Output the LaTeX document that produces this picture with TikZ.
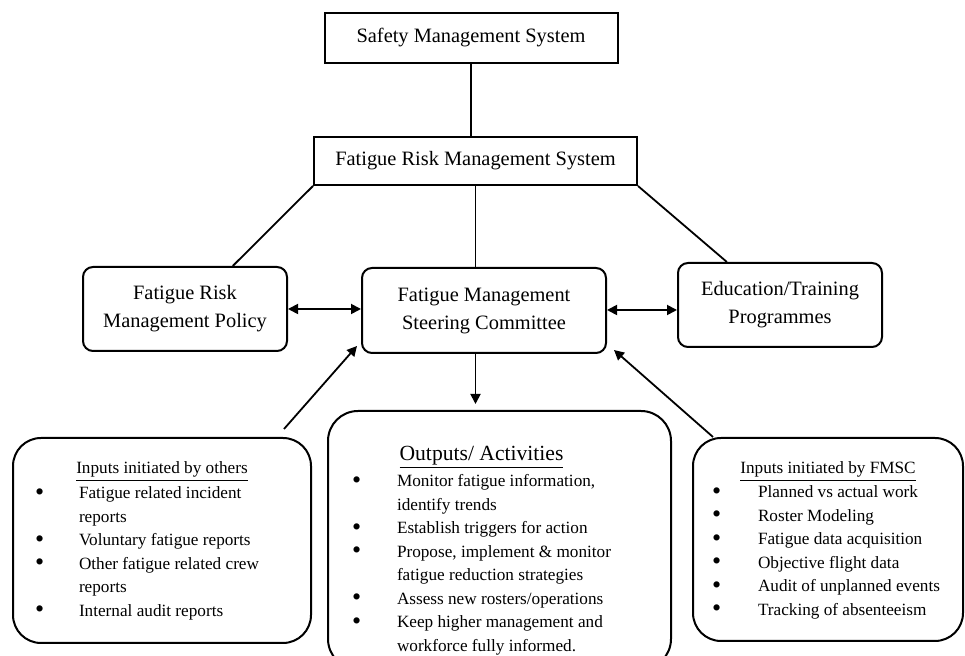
\documentclass[tikz,border=0pt]{standalone}
\usepackage{fontspec}
\setmainfont{Liberation Serif}
\usepackage{tikz}
\usetikzlibrary{arrows.meta,positioning,calc}

\newlength\bulind
\newlength\txtind
\newcommand{\boxhead}[2][0pt]{\par\noindent\makebox[\linewidth]{\hspace*{#1}\underline{#2}}\par}
\newcommand{\bigdot}{{\fontsize{13}{13}\selectfont\raisebox{-0.7pt}{\textbullet}}}
\newcommand{\bitem}[1]{\par\hangindent=\txtind\hangafter=1\noindent\makebox[\txtind][l]{\hspace*{\bulind}\bigdot}{\let\\\newline #1}}

\begin{document}
\begin{tikzpicture}[x=0.5pt,y=-0.5pt,
    sysbox/.style={draw,line width=1pt,inner sep=0pt,minimum height=#1,font=\fontsize{10.2}{14}\selectfont},
    midbox/.style={draw,line width=1pt,rounded corners=5pt,inner sep=0pt,minimum width=#1,minimum height=42pt,align=center,font=\fontsize{10.2}{14}\selectfont},
    listbox/.style={draw,line width=1pt,rounded corners=14pt,inner sep=0pt,anchor=north west,font=\fontsize{8.6}{11.75}\selectfont},
    link/.style={line width=0.9pt},
    arr/.style={line width=0.9pt,-{Triangle[length=5pt,width=5pt]}},
    darr/.style={line width=0.9pt,{Triangle[length=5pt,width=5pt]}-{Triangle[length=5pt,width=5pt]}}]
  \useasboundingbox[fill=white] (0,0) rectangle (965,656);

  % top of the hierarchy
  \node[sysbox=25pt,minimum width=146.5pt] (sms) at (471,38) {Safety Management System};
  \node[sysbox=24pt,minimum width=161.5pt] (frms) at (475.5,161) {Fatigue Risk Management System};

  % middle row
  \node[midbox=102pt] (policy) at (185,309) {Fatigue Risk\\Management Policy};
  \node[midbox=122pt,minimum height=42.5pt] (steer) at (484,310.5) {Fatigue Management\\Steering Committee};
  \node[midbox=102pt] (edu) at (780,305) {Education/Training\\Programmes};

  % lists
  \node[listbox] (others) at (12,437) {\parbox[t][102.5pt][t]{149pt}{\raggedright
    \setlength\bulind{11pt}\setlength\txtind{33pt}
    \vspace*{12pt}
    \boxhead{Inputs initiated by others}\vspace{0.75pt}
    \bitem{Fatigue related incident\\reports}
    \bitem{Voluntary fatigue reports}
    \bitem{Other fatigue related crew\\reports}
    \bitem{Internal audit reports}}};
  \node[listbox,rounded corners=15pt] (outputs) at (327,410) {\parbox[t][129pt][t]{171.5pt}{\raggedright
    \setlength\bulind{12pt}\setlength\txtind{34.5pt}
    \vspace*{17.5pt}
    {\fontsize{10.8}{12}\selectfont\boxhead[-18pt]{Outputs/ Activities}}\vspace{1.5pt}
    \bitem{Monitor fatigue information,\\identify trends}
    \bitem{Establish triggers for action}
    \bitem{Propose, implement \& monitor\\fatigue reduction strategies}
    \bitem{Assess new rosters/operations}
    \bitem{Keep higher management and\\workforce fully informed.}}};
  \node[listbox] (fmsc) at (692,437) {\parbox[t][101.5pt][t]{135pt}{\raggedright
    \setlength\bulind{9.5pt}\setlength\txtind{32.5pt}
    \vspace*{12pt}
    \boxhead{Inputs initiated by FMSC}\vspace{0.25pt}
    \bitem{Planned vs actual work}
    \bitem{Roster Modeling}
    \bitem{Fatigue data acquisition}
    \bitem{Objective flight data}
    \bitem{Audit of unplanned events}
    \bitem{Tracking of absenteeism}}};

  % connectors
  \draw[link] (sms.south) -- (sms.south |- frms.north);
  \draw[link] (frms.south west) -- (policy.42);
  \draw[link] (frms.south) -- (frms.south |- steer.north);
  \draw[link] (frms.south east) -- (edu.141);
  \draw[darr] (policy.east) -- (policy.east -| steer.west);
  \draw[darr] (steer.east |- edu.west) ++(0,5) coordinate (se) -- (se -| edu.west);
  \draw[arr] (steer.south -| frms.south) -- ($(outputs.north -| frms.south)+(0,-6)$);
  \draw[arr] ($(others.north east)+(-28,-8)$) -- ($(steer.south west)+(-4,-8)$);
  \draw[arr] ($(fmsc.north west)+(21,0)$) -- ($(steer.south east)+(7,-4)$);
\end{tikzpicture}
\end{document}
